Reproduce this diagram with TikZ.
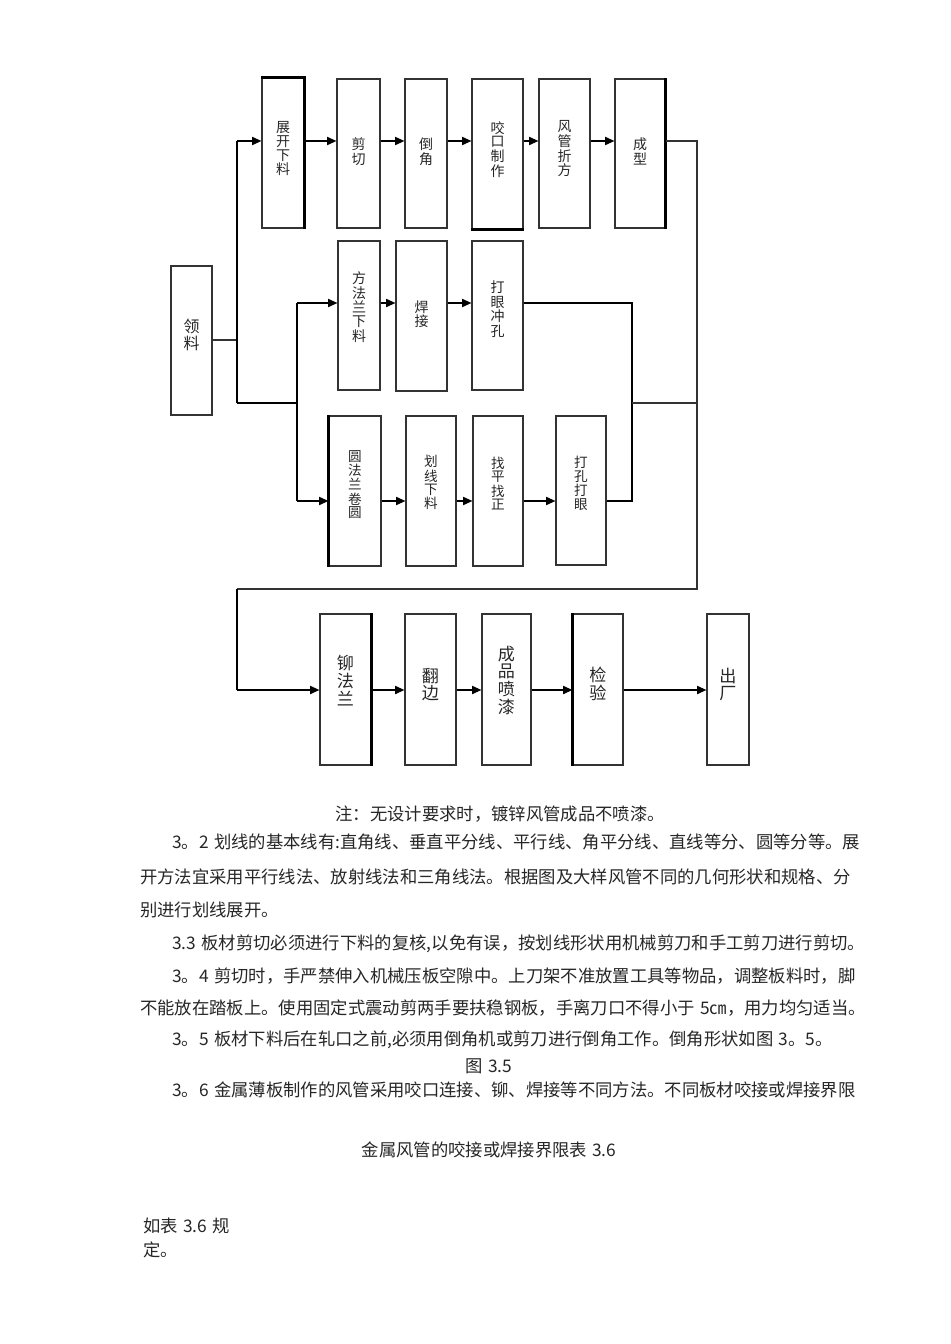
\documentclass[tikz,border=0pt]{standalone}
\usepackage{fontspec}
\usetikzlibrary{fit,arrows.meta}
\newfontfamily\cjk{Noto Sans CJK SC}
\XeTeXlinebreaklocale "zh"
\XeTeXlinebreakskip=0pt plus 4pt
\renewcommand\arraystretch{0.72}
\newcommand\boxlab[2]{\raisebox{-#1}{\begin{tabular}{@{}c@{}}#2\end{tabular}}}
\begin{document}
\begin{tikzpicture}[x=0.75pt,y=-0.75pt,
  box/.style={draw=black!80, line width=0.8pt, inner sep=0pt, text height=0pt, text depth=0pt,
    text=black!85, font=\cjk\fontsize{10.5}{10.5}\selectfont},
  boxs/.style={box, font=\cjk\fontsize{10.2}{10.2}\selectfont},
  boxb/.style={box, font=\cjk\fontsize{12.8}{12.8}\selectfont},
  boxl/.style={box, font=\cjk\fontsize{12}{12}\selectfont},
  edge/.style={line width=1.7pt, black},
  arr/.style={line width=1.3pt, black, -{Triangle[length=7pt,width=6pt]}},
  link/.style={line width=1.3pt, black},
  linkt/.style={line width=0.8pt, black!80},
  body/.style={font=\cjk\fontsize{13}{15}\selectfont, inner sep=0pt, text=black!85}
]
\path[use as bounding box] (0,0) rectangle (950,1344);

% top row
\node[box, fit={(262,78) (304,228)}] (zk) {\boxlab{18.9pt}{展\\开\\下\\料}};
\node[box, fit={(337,79) (380,228)}] (jq) {\boxlab{12.2pt}{剪\\切}};
\node[box, fit={(405,79) (447,228)}] (dj) {\boxlab{12.2pt}{倒\\角}};
\node[box, fit={(472,79) (523,229)}] (yk) {\boxlab{18.9pt}{咬\\口\\制\\作}};
\node[box, fit={(539,79) (590,228)}] (fg) {\boxlab{18.9pt}{风\\管\\折\\方}};
\node[box, fit={(615,79) (665,228)}] (cx) {\boxlab{12.2pt}{成\\型}};

% left
\node[boxl, fit={(171,266) (212,415)}] (ll) {\boxlab{9.1pt}{领\\料}};

% row 2
\node[box, fit={(338,241) (380,390)}] (ff) {\boxlab{18.9pt}{方\\法\\兰\\下\\料}};
\node[box, fit={(396,241) (447,391)}] (hj) {\boxlab{12.5pt}{焊\\接}};
\node[box, fit={(472,241) (523,390)}] (dy) {\boxlab{16.7pt}{打\\眼\\冲\\孔}};

% row 3
\node[boxs, fit={(329,416) (381,566)}] (yf) {\boxlab{20.8pt}{圆\\法\\兰\\卷\\圆}};
\node[boxs, fit={(406,416) (456,566)}] (hx) {\boxlab{12.6pt}{划\\线\\下\\料}};
\node[boxs, fit={(473,416) (523,566)}] (zp) {\boxlab{14pt}{找\\平\\找\\正}};
\node[boxs, fit={(556,416) (606,565)}] (dk) {\boxlab{14pt}{打\\孔\\打\\眼}};

% bottom row
\node[boxb, fit={(320,614) (371,765)}] (mf) {\boxlab{12.8pt}{铆\\法\\兰}};
\node[boxb, fit={(405,614) (456,765)}] (fb) {\boxlab{10.6pt}{翻\\边}};
\node[boxb, fit={(482,614) (531,765)}] (cp) {\boxlab{18.4pt}{成\\品\\喷\\漆}};
\node[boxb, fit={(573,614) (623,765)}] (jy) {\boxlab{10.6pt}{检\\验}};
\node[boxb, fit={(707,614) (749,765)}] (cc) {\boxlab{10pt}{出\\厂}};

% emphasised edges
\draw[edge] (zk.north west) -- (zk.north east) -- (zk.south east);
\draw[edge] (yk.south west) -- (yk.south east);
\draw[edge] (cx.north east) -- (cx.south east);
\draw[edge] (yf.north west) -- (yf.south west);
\draw[edge] (mf.north east) -- (mf.south east);
\draw[edge] (jy.north west) -- (jy.south west);

% coordinates
\coordinate (Ttop) at (237,141);
\coordinate (Tmid) at (237,340);
\coordinate (Tbot) at (237,403);
\coordinate (Mbot) at (297,403);
\coordinate (Mup) at (297,303);
\coordinate (Mdn) at (297,501);
\coordinate (Ra) at (632,303);
\coordinate (Rb) at (632,403);
\coordinate (Rc) at (632,501);
\coordinate (Rtop) at (697,141);
\coordinate (Rmid) at (697,403);
\coordinate (Rbot) at (697,589);
\coordinate (Lbot) at (237,589);
\coordinate (Lend) at (237,690);

% left trunk
\draw[linkt] (ll.east |- Tmid) -- (Tmid);
\draw[link] (Tbot) -- (Ttop);
\draw[arr] (Ttop) -- (zk.west |- Ttop);
\draw[link] (Tbot) -- (Mbot);
\draw[link] (Mup) -- (Mdn);

% top row arrows
\draw[arr] (zk.east |- Ttop) -- (jq.west |- Ttop);
\draw[arr] (jq.east |- Ttop) -- (dj.west |- Ttop);
\draw[arr] (dj.east |- Ttop) -- (yk.west |- Ttop);
\draw[arr] (yk.east |- Ttop) -- (fg.west |- Ttop);
\draw[arr] (fg.east |- Ttop) -- (cx.west |- Ttop);

% row 2
\draw[arr] (Mup) -- (ff.west |- Mup);
\draw[arr] (ff.east |- Mup) -- (hj.west |- Mup);
\draw[arr] (hj.east |- Mup) -- (dy.west |- Mup);
\draw[link] (dy.east |- Ra) -- (Ra) -- (Rc) -- (dk.east |- Rc);
\draw[linkt] (Rb) -- (Rmid);

% row 3
\draw[arr] (Mdn) -- (yf.west |- Mdn);
\draw[arr] (yf.east |- Mdn) -- (hx.west |- Mdn);
\draw[arr] (hx.east |- Mdn) -- (zp.west |- Mdn);
\draw[arr] (zp.east |- Mdn) -- (dk.west |- Mdn);

% right trunk and return
\draw[linkt] (cx.east |- Rtop) -- (Rtop) -- (Rbot) -- (Lbot);
\draw[link] (Lbot) -- (Lend);
\draw[arr] (Lend) -- (mf.west |- Lend);
\draw[arr] (mf.east |- Lend) -- (fb.west |- Lend);
\draw[arr] (fb.east |- Lend) -- (cp.west |- Lend);
\draw[arr] (cp.east |- Lend) -- (jy.west |- Lend);
\draw[arr] (jy.east |- Lend) -- (cc.west |- Lend);

% text
\node[body] (t0) at (500,814) {注：无设计要求时，镀锌风管成品不喷漆。};
\node[body, anchor=west] (t1) at (172,842) {\makebox[508.5pt][s]{3。2\hspace{0.3em}划线的基本线有:直角线、垂直平分线、平行线、角平分线、直线等分、圆等分等。展}};
\node[body, anchor=west] (t2) at (140,877) {\makebox[532.5pt][s]{开方法宜采用平行线法、放射线法和三角线法。根据图及大样风管不同的几何形状和规格、分}};
\node[body, anchor=west] (t3) at (140,910) {别进行划线展开。};
\node[body, anchor=west] (t4) at (172,944) {\makebox[508.5pt][s]{3.3\hspace{0.3em}板材剪切必须进行下料的复核,以免有误，按划线形状用机械剪刀和手工剪刀进行剪切。}};
\node[body, anchor=west] (t5) at (172,976) {\makebox[508.5pt][s]{3。4\hspace{0.3em}剪切时，手严禁伸入机械压板空隙中。上刀架不准放置工具等物品，调整板料时，脚}};
\node[body, anchor=west] (t6) at (140,1008) {\makebox[532.5pt][s]{不能放在踏板上。使用固定式震动剪两手要扶稳钢板，手离刀口不得小于\hspace{0.3em}5㎝，用力均匀适当。}};
\node[body, anchor=west] (t7) at (172,1040) {3。5\hspace{0.3em}板材下料后在轧口之前,必须用倒角机或剪刀进行倒角工作。倒角形状如图\hspace{0.3em}3。5。};
\node[body] (t8) at (489,1066) {图\hspace{0.3em}3.5};
\node[body, anchor=west] (t9) at (172,1090) {3。6\hspace{0.3em}金属薄板制作的风管采用咬口连接、铆、焊接等不同方法。不同板材咬接或焊接界限};
\node[body] (t10) at (489,1150) {金属风管的咬接或焊接界限表\hspace{0.3em}3.6};
\node[body, anchor=west] (t11) at (143,1226) {如表\hspace{0.3em}3.6\hspace{0.3em}规};
\node[body, anchor=west] (t12) at (143,1250) {定。};
\end{tikzpicture}
\end{document}
